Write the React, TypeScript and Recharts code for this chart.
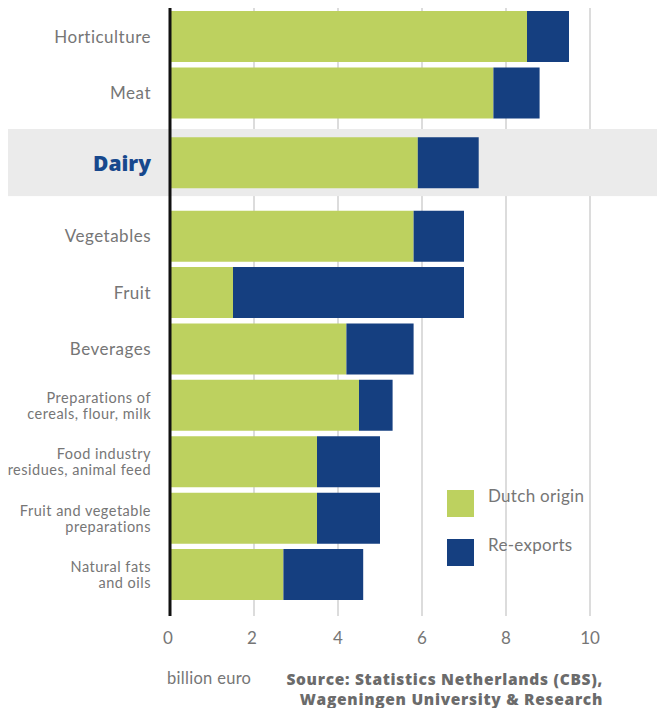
import React from "react";
import {
  BarChart,
  Bar,
  XAxis,
  YAxis,
  CartesianGrid,
  ReferenceArea,
  ReferenceLine,
  Legend,
} from "recharts";

const categories = [
  "Horticulture",
  "Meat",
  "Dairy",
  "Vegetables",
  "Fruit",
  "Beverages",
  "Preparations of\ncereals, flour, milk",
  "Food industry\nresidues, animal feed",
  "Fruit and vegetable\npreparations",
  "Natural fats\nand oils",
];
const dutchOrigin = [8.5, 7.7, 5.9, 5.8, 1.5, 4.2, 4.5, 3.5, 3.5, 2.7];
const reExports = [1.0, 1.1, 1.45, 1.2, 5.5, 1.6, 0.8, 1.5, 1.5, 1.9];
const xTicks = [0, 2, 4, 6, 8, 10];
const seriesNames = ["Dutch origin", "Re-exports"];
const highlightCategory = "Dairy";
const unitLabel = "billion euro";
const sourceLines = [
  "Source: Statistics Netherlands (CBS),",
  "Wageningen University & Research",
];

const GREEN = "#bdd15f";
const BLUE = "#153f80";
const GREY_TEXT = "#767676";
const FONT = "Lato, 'Open Sans', sans-serif";
const BOLD_FONT = "'Open Sans', Lato, sans-serif";

const W = 657;
const H = 648;
const PAGE_H = 700;

// extra spacing around the highlighted row (layout only)
const GAP_BEFORE = 0.24;
const GAP_AFTER = 0.3;
const hIndex = categories.indexOf(highlightCategory);

const data = categories.map((name, i) => ({
  name,
  pos: i + (i >= hIndex ? GAP_BEFORE : 0) + (i > hIndex ? GAP_AFTER : 0),
  dutch: dutchOrigin[i],
  re: reExports[i],
}));
const yTicks = data.map((d) => d.pos);
const hPos = data[hIndex].pos;

const YTick = (props: any) => {
  const { x, y, payload } = props;
  const row = data.find((d) => Math.abs(d.pos - payload.value) < 1e-6);
  if (!row) return null;
  const tx = x - 19;
  if (row.name === highlightCategory) {
    return (
      <text
        x={tx}
        y={y}
        textAnchor="end"
        dominantBaseline="central"
        fontFamily={BOLD_FONT}
        fontWeight={800}
        fontSize={21}
        fill="#17488d"
      >
        {row.name}
      </text>
    );
  }
  const lines = row.name.split("\n");
  if (lines.length === 1) {
    return (
      <text
        x={tx}
        y={y}
        textAnchor="end"
        dominantBaseline="central"
        fontFamily={FONT}
        fontSize={17}
        letterSpacing={0.5}
        fill={GREY_TEXT}
      >
        {row.name}
      </text>
    );
  }
  return (
    <text
      x={tx}
      textAnchor="end"
      dominantBaseline="central"
      fontFamily={FONT}
      fontSize={14.5}
      letterSpacing={0.5}
      fill={GREY_TEXT}
    >
      {lines.map((l, k) => (
        <tspan key={k} x={tx} y={y + (k - (lines.length - 1) / 2) * 16}>
          {l}
        </tspan>
      ))}
    </text>
  );
};

const XTick = (props: any) => {
  const { x, y, payload } = props;
  return (
    <text
      x={x - (payload.value < 4 ? 2 : 0)}
      y={y + 21}
      textAnchor="middle"
      dominantBaseline="central"
      fontFamily={FONT}
      fontSize={17}
      fill={GREY_TEXT}
    >
      {payload.value}
    </text>
  );
};

const LegendContent = () => (
  <div style={{ fontFamily: FONT }}>
    {[GREEN, BLUE].map((c, i) => (
      <div
        key={i}
        style={{
          display: "flex",
          alignItems: "flex-start",
          height: 49,
        }}
      >
        <div style={{ width: 27, height: 27, background: c }} />
        <div
          style={{
            marginLeft: 14,
            marginTop: -6,
            fontSize: 17,
            letterSpacing: 0.3,
            color: GREY_TEXT,
            lineHeight: "24px",
          }}
        >
          {seriesNames[i]}
        </div>
      </div>
    ))}
  </div>
);

export default function App() {
  return (
    <div
      style={{
        position: "relative",
        width: W,
        height: PAGE_H,
      }}
    >
      <BarChart
        width={W}
        height={H}
        data={data}
        layout="vertical"
        margin={{ top: 0, right: 75, bottom: 0, left: 0 }}
      >
        <ReferenceArea
          y1={hPos - 0.595}
          y2={hPos + 0.595}
          ifOverflow="visible"
          shape={(p: any) => (
            <rect x={0} y={p.y} width={W} height={p.height} fill="#ebebeb" />
          )}
        />
        <CartesianGrid
          horizontal={false}
          vertical
          stroke="#dcdcdc"
          strokeWidth={2}
        />
        <XAxis
          type="number"
          domain={[0, 10]}
          ticks={xTicks}
          axisLine={false}
          tickLine={false}
          tickSize={0}
          tickMargin={0}
          height={40}
          tick={<XTick />}
          interval={0}
        />
        <YAxis
          type="number"
          dataKey="pos"
          domain={[-0.5, 10.28]}
          ticks={yTicks}
          interval={0}
          allowDecimals
          axisLine={false}
          tickLine={false}
          tickSize={0}
          tickMargin={0}
          width={162}
          tick={<YTick />}
        />
        <ReferenceLine x={0} stroke="#111" strokeWidth={3} />
        <Bar
          dataKey="dutch"
          name={seriesNames[0]}
          stackId="a"
          fill={GREEN}
          barSize={51}
          isAnimationActive={false}
        />
        <Bar
          dataKey="re"
          name={seriesNames[1]}
          stackId="a"
          fill={BLUE}
          barSize={51}
          isAnimationActive={false}
        />
        <Legend
          layout="vertical"
          align="center"
          verticalAlign="middle"
          content={<LegendContent />}
          wrapperStyle={{
            position: "absolute",
            left: 439,
            top: 482,
            bottom: "auto",
            right: "auto",
            width: "auto",
            height: "auto",
          }}
        />
      </BarChart>
      <div
        style={{
          position: "absolute",
          left: 159,
          top: 660,
          fontFamily: FONT,
          fontSize: 16.5,
          letterSpacing: 0.3,
          lineHeight: "20px",
          color: GREY_TEXT,
        }}
      >
        {unitLabel}
      </div>
      <div
        style={{
          position: "absolute",
          right: W - 595,
          top: 661,
          fontFamily: BOLD_FONT,
          fontWeight: 800,
          fontSize: 15.5,
          letterSpacing: 0.7,
          lineHeight: "20px",
          color: "#6b6b6b",
          textAlign: "right",
          whiteSpace: "nowrap",
        }}
      >
        {sourceLines.map((l, i) => (
          <div key={i}>{l}</div>
        ))}
      </div>
    </div>
  );
}
